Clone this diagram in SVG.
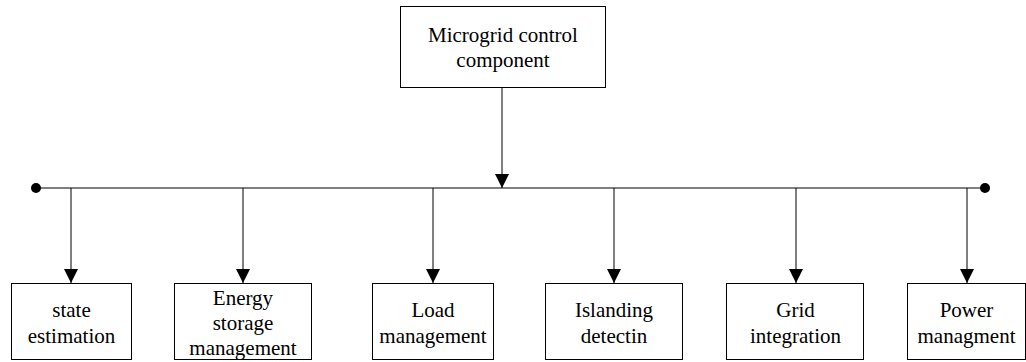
<svg xmlns="http://www.w3.org/2000/svg" width="1026" height="362" viewBox="0 0 1026 362">
  <style>
    .box { fill: #ffffff; stroke: #000000; stroke-width: 1; }
    .lbl { font-family: 'Liberation Serif', 'Times New Roman', serif; font-size: 21px; fill: #000000; text-anchor: middle; }
    .wire { stroke: #000000; stroke-width: 1; fill: none; }
    .arrow { stroke: #000000; stroke-width: 1; fill: none; marker-end: url(#head); }
  </style>
  <defs>
    <marker id="head" markerUnits="userSpaceOnUse" markerWidth="14" markerHeight="15" refX="14" refY="7" orient="auto">
      <path d="M0,0 L14,7 L0,14 Z" fill="#000000"/>
    </marker>
  </defs>
  <rect width="1026" height="362" fill="#ffffff"/>

  <g id="connectors">
    <!-- feed from the control component down to the bus -->
    <line class="arrow" x1="502" y1="87.5" x2="502" y2="188"/>
    <!-- bus bar with terminals -->
    <line class="wire" x1="36" y1="188" x2="985" y2="188"/>
    <circle cx="36" cy="188" r="5" fill="#000000"/>
    <circle cx="985" cy="188" r="5" fill="#000000"/>
    <!-- drops to each function block -->
    <line class="arrow" x1="71" y1="188" x2="71" y2="283"/>
    <line class="arrow" x1="243" y1="188" x2="243" y2="283"/>
    <line class="arrow" x1="433" y1="188" x2="433" y2="283"/>
    <line class="arrow" x1="614" y1="188" x2="614" y2="283"/>
    <line class="arrow" x1="796" y1="188" x2="796" y2="283"/>
    <line class="arrow" x1="967" y1="188" x2="967" y2="283"/>
  </g>

  <g id="control">
    <rect class="box" x="400.5" y="6.5" width="205" height="81"/>
    <text class="lbl" x="503" y="42">Microgrid control</text>
    <text class="lbl" x="503" y="67">component</text>
  </g>

  <g id="state-estimation">
    <rect class="box" x="11.5" y="283.5" width="120" height="76"/>
    <text class="lbl" x="71.5" y="317">state</text>
    <text class="lbl" x="71.5" y="343">estimation</text>
  </g>

  <g id="energy-storage">
    <rect class="box" x="174.5" y="283.5" width="137" height="76"/>
    <text class="lbl" x="243" y="305">Energy</text>
    <text class="lbl" x="243" y="330">storage</text>
    <text class="lbl" x="243" y="355">management</text>
  </g>

  <g id="load-management">
    <rect class="box" x="372.5" y="283.5" width="121" height="76"/>
    <text class="lbl" x="433" y="317">Load</text>
    <text class="lbl" x="433" y="343">management</text>
  </g>

  <g id="islanding-detection">
    <rect class="box" x="545.5" y="283.5" width="137" height="76"/>
    <text class="lbl" x="614" y="317">Islanding</text>
    <text class="lbl" x="614" y="343">detectin</text>
  </g>

  <g id="grid-integration">
    <rect class="box" x="726.5" y="283.5" width="137" height="76"/>
    <text class="lbl" x="795.5" y="317">Grid</text>
    <text class="lbl" x="795.5" y="343">integration</text>
  </g>

  <g id="power-management">
    <rect class="box" x="907.5" y="283.5" width="118" height="76"/>
    <text class="lbl" x="966.5" y="317">Power</text>
    <text class="lbl" x="966.5" y="343">managment</text>
  </g>
</svg>
